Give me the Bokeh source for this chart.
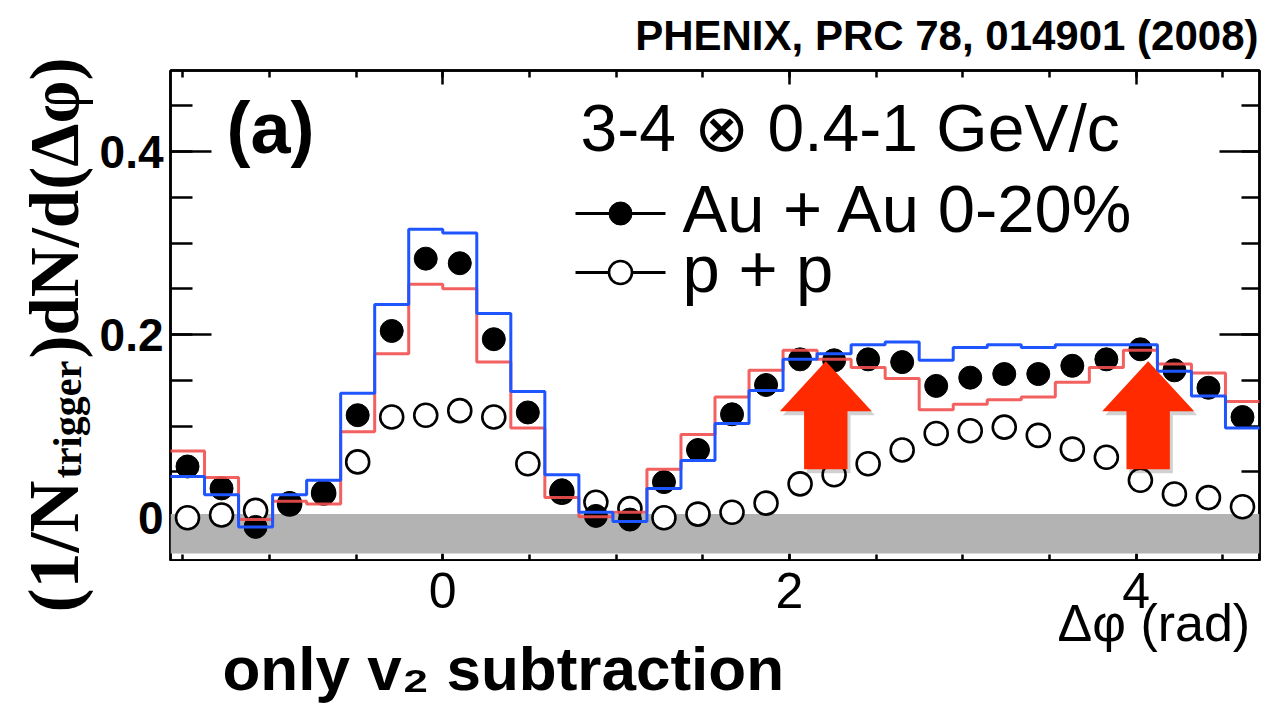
import numpy as np
from bokeh.plotting import figure
from bokeh.layouts import column, row
from bokeh.models import Range1d, LinearAxis, SingleIntervalTicker, Label, BoxAnnotation
from bokeh.core.properties import value
from bokeh.embed import file_html
from bokeh.resources import INLINE

PI = np.pi

# ---------------- data ----------------
n_bins = 32
bin_width = PI / 16
bin_edges = -PI / 2 + bin_width * np.arange(n_bins + 1)
bin_centers = bin_edges[:-1] + bin_width / 2

auau_0_20 = [0.056, 0.032, -0.010, 0.016, 0.028, 0.112, 0.204, 0.283, 0.278, 0.195, 0.115,
             0.030, 0.002, -0.002, 0.039, 0.074, 0.113, 0.145, 0.173, 0.172, 0.173, 0.170,
             0.144, 0.153, 0.157, 0.157, 0.166, 0.173, 0.184, 0.161, 0.142, 0.110]
pp = [0.000, 0.003, 0.008, 0.015, 0.027, 0.061, 0.110, 0.112, 0.117, 0.110, 0.059,
      0.028, 0.017, 0.010, 0.000, 0.004, 0.006, 0.016, 0.037, 0.047, 0.059, 0.074,
      0.092, 0.095, 0.099, 0.090, 0.075, 0.066, 0.041, 0.026, 0.022, 0.012]
band_low = [0.073, 0.044, -0.002, 0.018, 0.015, 0.094, 0.179, 0.255, 0.250, 0.170, 0.098,
            0.022, 0.001, 0.006, 0.053, 0.091, 0.132, 0.161, 0.183, 0.173, 0.164, 0.152,
            0.118, 0.124, 0.129, 0.132, 0.148, 0.164, 0.183, 0.168, 0.158, 0.127]
band_high = [0.045, 0.025, -0.010, 0.025, 0.041, 0.136, 0.233, 0.315, 0.311, 0.223, 0.138,
             0.047, 0.006, -0.004, 0.032, 0.0625, 0.103, 0.139, 0.173, 0.179, 0.189, 0.192,
             0.172, 0.186, 0.189, 0.186, 0.189, 0.189, 0.189, 0.160, 0.133, 0.098]
zyam_band = [-0.039, 0.004]
arrow_dphi = [2.21, 4.07]
arrow_tip_y = 0.171

x_major_ticks = [0, 2, 4]
x_tick_labels = ["0", "2", "4"]

# ---------------- geometry ----------------
X0, X1 = -PI / 2, 3 * PI / 2
Y0, Y1 = -0.0467, 0.4885
W, H = 1272, 708
TOP_H = 60           # strip with the reference line
LEFT_W = 96          # strip with the rotated y title
FL, FT, FW, FH = 170, 70, 1089, 490   # frame in page pixels
MAIN_BOTTOM = 1
MID_H = (FT - TOP_H) + FH + MAIN_BOTTOM
BOT_H = H - TOP_H - MID_H
RW = W - LEFT_W
BASE_SHIFT = 0.36    # empirical baseline correction (fraction of font size)

x_range = Range1d(X0, X1)
y_range = Range1d(Y0, Y1)


def dx(px):
    return X0 + (px - FL) / FW * (X1 - X0)


def dy(py):
    return Y1 - (py - FT) / FH * (Y1 - Y0)


def no_align(f):
    try:
        f.frame_align = False
    except Exception:
        pass


def blank(width, height, xr, yr, l=0, r=0):
    f = figure(width=width, height=height, output_backend="svg", toolbar_location=None,
               x_range=xr, y_range=yr, x_axis_type=None, y_axis_type=None,
               min_border_left=l, min_border_right=r, min_border_top=0, min_border_bottom=0)
    f.xgrid.visible = False
    f.ygrid.visible = False
    f.outline_line_color = None
    f.title.visible = False
    f.background_fill_color = "white"
    f.border_fill_color = "white"
    no_align(f)
    return f


def lab(fig, text, px, py, size, font="Liberation Sans", style="normal", align="left",
        angle=0.0, data=False):
    """px, py: wanted baseline start in page pixels."""
    s = float(size.replace("px", ""))
    if angle:
        px = px - BASE_SHIFT * s
    else:
        py = py - BASE_SHIFT * s
    x, y = (dx(px), dy(py)) if data else (px, py)
    fig.add_layout(Label(x=x, y=y, text=text, text_font=font, text_font_size=size,
                         text_font_style=style, text_align=align,
                         text_baseline="alphabetic", angle=angle, text_color="black"))


# ---------------- main plot ----------------
p = figure(width=RW, height=MID_H, output_backend="svg", toolbar_location=None,
           x_range=x_range, y_range=y_range, x_axis_type=None, y_axis_type=None,
           min_border_left=FL - LEFT_W, min_border_right=W - FL - FW,
           min_border_top=FT - TOP_H, min_border_bottom=MAIN_BOTTOM)
no_align(p)
p.title.visible = False
p.xgrid.visible = False
p.ygrid.visible = False
p.outline_line_color = "black"
p.outline_line_width = 2.5
p.background_fill_color = "white"
p.border_fill_color = "white"


def make_axis(ticker, maj_in, min_in, labels=False, size="46px"):
    ax = LinearAxis(ticker=ticker)
    ax.axis_line_color = "black"
    ax.axis_line_width = 2.5
    ax.major_tick_line_width = 2.5
    ax.minor_tick_line_width = 2.5
    ax.major_tick_in = maj_in
    ax.major_tick_out = 0
    ax.minor_tick_in = min_in
    ax.minor_tick_out = 0
    if labels:
        ax.major_label_text_font = "Liberation Sans"
        ax.major_label_text_font_size = size
        ax.major_label_text_font_style = "bold"
        ax.major_label_text_color = "black"
    else:
        ax.major_label_text_font_size = "1px"
        ax.major_label_text_color = None
        ax.major_label_standoff = 0
    return ax


ax_left = make_axis(SingleIntervalTicker(interval=0.2, num_minor_ticks=4), 41, 22, labels=True)
ax_left.major_label_standoff = 7
ax_left.major_label_overrides = {0: "0", 0.2: "0.2", 0.4: "0.4"}
p.add_layout(ax_left, "left")
p.add_layout(make_axis(SingleIntervalTicker(interval=0.2, num_minor_ticks=4), 40, 18), "right")
p.add_layout(make_axis(SingleIntervalTicker(interval=2, num_minor_ticks=4), 7, 6), "below")
p.add_layout(make_axis(SingleIntervalTicker(interval=2, num_minor_ticks=4), 14, 7), "above")

# grey band drawn over the axis ticks, under the data
p.add_layout(BoxAnnotation(bottom=zyam_band[0], top=zyam_band[1], fill_color="#b3b3b3",
                           fill_alpha=1.0, line_color=None, level="annotation"))

# data points
p.scatter(bin_centers, pp, size=23, marker="circle", fill_color="white",
          line_color="black", line_width=2.6, level="overlay")
p.scatter(bin_centers, auau_0_20, size=23, marker="circle", fill_color="black",
          line_color="black", level="overlay")

# step histograms
p.step(bin_edges, list(band_low) + [band_low[-1]], mode="after",
       line_color="#f24f4f", line_width=3, line_alpha=0.9, level="overlay")
p.step(bin_edges, list(band_high) + [band_high[-1]], mode="after",
       line_color="#1f55ff", line_width=3, level="overlay")

# arrows
ux = (X1 - X0) / FW
uy = (Y1 - Y0) / FH
for xa in arrow_dphi:
    hw, hh, sw, sl = 46 * ux, 50 * uy, 21.7 * ux, 58 * uy
    xs = [xa, xa + hw, xa + sw, xa + sw, xa - sw, xa - sw, xa - hw]
    ys = [arrow_tip_y, arrow_tip_y - hh, arrow_tip_y - hh, arrow_tip_y - hh - sl,
          arrow_tip_y - hh - sl, arrow_tip_y - hh, arrow_tip_y - hh]
    p.patch([x + 3 * ux for x in xs], [y - 4 * uy for y in ys], fill_color="black",
            fill_alpha=0.18, line_color=None, level="overlay")
    p.patch(xs, ys, fill_color="#ff2a00", line_color=None, level="overlay")

# legend
p.segment(x0=[dx(575), dx(575)], y0=[dy(213), dy(272)], x1=[dx(665), dx(665)],
          y1=[dy(213), dy(272)], line_color="black", line_width=3)
p.scatter([dx(620)], [dy(213)], size=23, marker="circle", fill_color="black", line_color="black")
p.scatter([dx(620)], [dy(272)], size=23, marker="circle", fill_color="white",
          line_color="black", line_width=2.6)

lab(p, "3-4 ⊗ 0.4-1 GeV/c", 580, 151, "66px", data=True)
lab(p, "Au + Au 0-20%", 682, 232, "67px", data=True)
lab(p, "p + p", 682, 292, "67px", data=True)
lab(p, "(a)", 226, 153, "72px", style="bold", data=True)

# ---------------- top strip ----------------
top = blank(RW, TOP_H, Range1d(LEFT_W, W), Range1d(TOP_H, 0))
lab(top, "PHENIX, PRC 78, 014901 (2008)", 1258, 50, "42px", style="bold", align="right")

# ---------------- left strip: rotated y title ----------------
left = blank(LEFT_W, H, Range1d(0, LEFT_W), Range1d(H, 0))
lab(left, "(1/N", 79, 612, "72px", font="Liberation Serif", style="bold", angle=PI / 2)
lab(left, "trigger", 81, 478, "40px", font="Liberation Serif", style="bold", angle=PI / 2)
lab(left, ")dN/d(Δφ)", 79, 358, "69px", font="Liberation Serif", style="bold", angle=PI / 2)

# ---------------- bottom strip: x tick labels, x title, note ----------------
bot = blank(RW, BOT_H, x_range, Range1d(H, H - BOT_H), l=FL - LEFT_W, r=W - FL - FW)
bot.text(x=x_major_ticks, y=[608 - BASE_SHIFT * 50] * len(x_major_ticks), text=x_tick_labels,
         text_font=value("Liberation Sans"), text_font_size="50px",
         text_align="center", text_baseline="alphabetic", text_color="black")
lab(bot, "Δφ (rad)", dx(1057), 641, "52px")
lab(bot, "only v₂ subtraction", dx(222), 690, "62px", style="bold")

layout = row(left, column(top, p, bot))
open("out.html", "w").write(file_html(layout, INLINE))
